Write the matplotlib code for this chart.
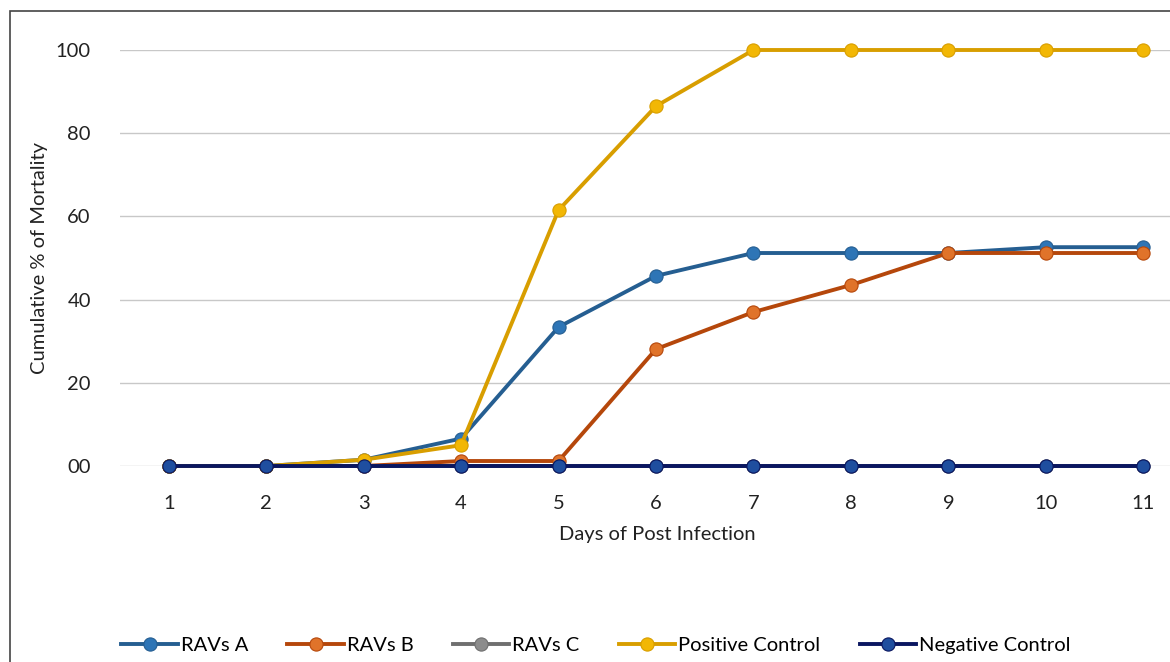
import matplotlib
matplotlib.use("Agg")
import matplotlib.pyplot as plt
from matplotlib.patches import Rectangle

plt.rcParams['font.family'] = ['Lato', 'DejaVu Sans']

days = [1, 2, 3, 4, 5, 6, 7, 8, 9, 10, 11]
ravs_a = [0, 0, 1.5, 6.6, 33.4, 45.7, 51.2, 51.2, 51.2, 52.6, 52.6]
ravs_b = [0, 0, 0, 1.2, 1.2, 28.1, 37.0, 43.5, 51.2, 51.2, 51.2]
ravs_c = [0, 0, 0, 0, 0, 0, 0, 0, 0, 0, 0]
positive = [0, 0, 1.5, 5.0, 61.5, 86.5, 100, 100, 100, 100, 100]
negative = [0, 0, 0, 0, 0, 0, 0, 0, 0, 0, 0]
y_ticks = [0, 20, 40, 60, 80, 100]
y_labels = ["00", "20", "40", "60", "80", "100"]

series = [
    ("RAVs A", ravs_a, "#255E91", "#2E75B6"),
    ("RAVs B", ravs_b, "#B5470B", "#E0732A"),
    ("RAVs C", ravs_c, "#6F6F6F", "#8C8C8C"),
    ("Positive Control", positive, "#D89E00", "#F2B705"),
    ("Negative Control", negative, "#0A1660", "#1F4E9F"),
]

W, H = 1170, 662
fig = plt.figure(figsize=(W / 100, H / 100), dpi=100)
fig.patches.append(Rectangle((10 / W, -0.1), 1.2, 1 - 11 / H + 0.1, transform=fig.transFigure,
                             fill=False, edgecolor="#444444", linewidth=1.2))

ax = fig.add_axes([120 / W, 1 - 466 / H, 1072 / W, 416 / H])
for name, vals, lc, mc in series:
    ax.plot(days, vals, color=lc, lw=2.8, marker="o", ms=9.5, markerfacecolor=mc,
            markeredgecolor=lc, markeredgewidth=0.8, label=name, clip_on=False, zorder=3)

ax.set_xlim(0.5, 11.5)
ax.set_ylim(0, 100)
ax.set_xticks(days)
ax.set_yticks(y_ticks)
ax.set_yticklabels(y_labels)
ax.grid(axis="y", color="#C8C8C8", lw=1)
ax.set_axisbelow(True)
for s in ax.spines.values():
    s.set_visible(False)
ax.tick_params(length=0, labelsize=14.5, colors="#222222")
ax.tick_params(axis="y", pad=21)
ax.tick_params(axis="x", pad=21)
ax.set_xlabel("Days of Post Infection", fontsize=14.5, color="#222222")
ax.xaxis.set_label_coords((657 - 120) / 1072, -(526 - 466) / 416)
ax.set_ylabel("Cumulative % of Mortality", fontsize=14.5, color="#222222")
ax.yaxis.set_label_coords(-(120 - 48) / 1072, 0.5)

fig.legend(loc="center", bbox_to_anchor=(596 / W, 1 - 645 / H), ncol=5, frameon=False,
           fontsize=14.5, handlelength=2.8, columnspacing=1.95, handletextpad=0.15)

fig.savefig("out.png", dpi=100)
